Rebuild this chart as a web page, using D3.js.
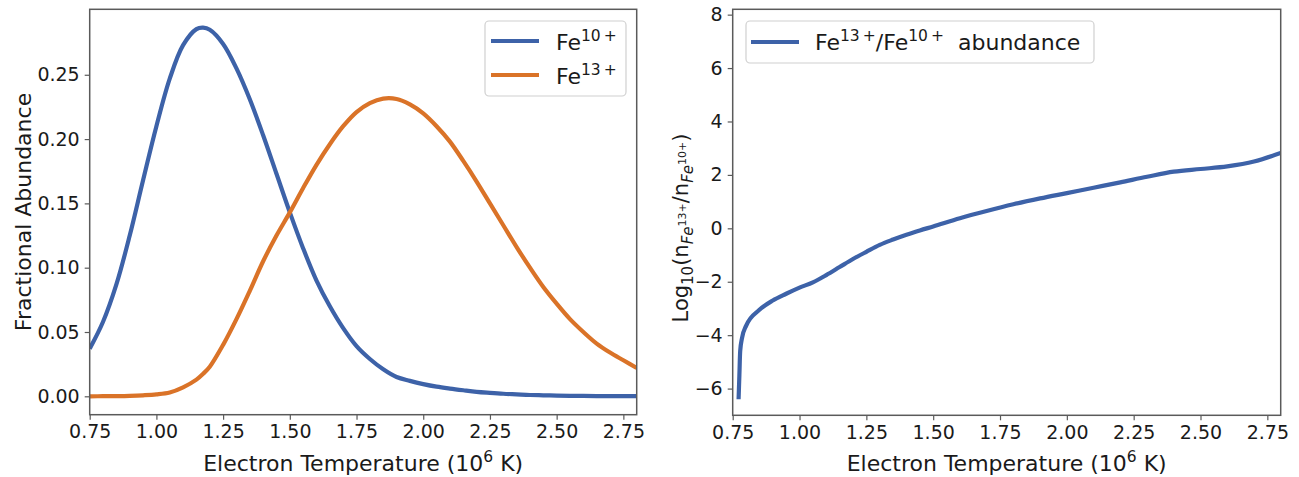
<!DOCTYPE html>
<html><head><meta charset="utf-8">
<script src="https://cdn.jsdelivr.net/npm/d3@7/dist/d3.min.js"></script>
<style>body{margin:0;background:#fff}svg{display:block;font-family:"DejaVu Sans",sans-serif}</style>
</head><body><svg id="c" width="1299" height="477"></svg>
<script>
// ---- data ----
const tempLeft = [0.75,0.80,0.85,0.90,0.95,1.00,1.05,1.10,1.15,1.175,1.20,1.25,1.30,1.35,1.40,1.45,1.50,1.55,1.60,1.65,1.70,1.75,1.80,1.85,1.90,1.95,2.00,2.05,2.10,2.15,2.20,2.25,2.30,2.35,2.40,2.45,2.50,2.55,2.60,2.65,2.70,2.75,2.80];
const fe10 = [0.037,0.058,0.087,0.125,0.168,0.210,0.247,0.273,0.2855,0.2866,0.2850,0.274,0.255,0.231,0.203,0.173,0.143,0.115,0.090,0.070,0.053,0.039,0.029,0.021,0.015,0.012,0.0095,0.0075,0.006,0.0047,0.0035,0.0027,0.002,0.0015,0.001,0.0008,0.0006,0.0004,0.0003,0.0002,0.0002,0.0001,0.0001];
const fe13 = [0.0000,0.0001,0.0002,0.0004,0.0008,0.0015,0.003,0.007,0.013,0.0175,0.023,0.040,0.060,0.082,0.105,0.125,0.143,0.162,0.180,0.196,0.210,0.221,0.228,0.2315,0.2312,0.227,0.220,0.210,0.198,0.183,0.167,0.150,0.133,0.116,0.100,0.085,0.072,0.060,0.050,0.041,0.034,0.028,0.022];
const tempRight = [0.772,0.775,0.778,0.785,0.80,0.85,0.90,0.95,1.00,1.05,1.10,1.15,1.20,1.25,1.30,1.35,1.40,1.45,1.50,1.60,1.70,1.80,1.90,2.00,2.10,2.20,2.30,2.40,2.50,2.60,2.70,2.80];
const logRatio = [-6.40,-5.5,-4.6,-4.1,-3.65,-3.05,-2.7,-2.45,-2.22,-2.02,-1.75,-1.45,-1.15,-0.88,-0.62,-0.42,-0.24,-0.08,0.07,0.38,0.65,0.90,1.12,1.32,1.52,1.72,1.93,2.12,2.22,2.32,2.50,2.82];
const xTicks = [0.75,1.00,1.25,1.50,1.75,2.00,2.25,2.50,2.75];
const yTicksLeft = [0.00,0.05,0.10,0.15,0.20,0.25];
const yTicksRight = [-6,-4,-2,0,2,4,6,8];
const seriesNames = ["10\u2009+","13\u2009+"];

const BLUE = "#3d62a8", ORANGE = "#da7328", SPINE = "#5a5a5a", TXT = "#1a1a1a";
const svg = d3.select("#c");
const FS = 19, TFS = 22, SFS = 15.5;
const curve = d3.curveCatmullRom.alpha(0.5);

function axesFrame(g, x, y, xt, yt, yfmt) {
  const [x0,x1] = x.range(), [y0,y1] = y.range();
  const xa = d3.axisBottom(x).tickValues(xt).tickFormat(d3.format(".2f")).tickSize(5).tickPadding(5);
  const ya = d3.axisLeft(y).tickValues(yt).tickFormat(yfmt).tickSize(5).tickPadding(5);
  const gx = g.append("g").attr("transform",`translate(0,${y0})`).call(xa);
  const gy = g.append("g").attr("transform",`translate(${x0},0)`).call(ya);
  [gx,gy].forEach(a=>{
    a.select(".domain").remove();
    a.selectAll(".tick line").attr("stroke",SPINE).attr("stroke-width",1.2);
    a.selectAll(".tick text").attr("fill",TXT).style("font-size",FS+"px").style("font-family","DejaVu Sans");
  });
  g.append("rect").attr("x",x0).attr("y",y1).attr("width",x1-x0).attr("height",y0-y1)
   .attr("fill","none").attr("stroke",SPINE).attr("stroke-width",1.5);
  const t = g.append("text").attr("x",(x0+x1)/2).attr("y",471).attr("text-anchor","middle")
    .attr("fill",TXT).style("font-size",TFS+"px");
  t.append("tspan").text("Electron Temperature (10");
  t.append("tspan").attr("dy",-9).style("font-size","15.5px").text("6");
  t.append("tspan").attr("dy",9).text(" K)");
}

// ---- left panel ----
const xL = d3.scaleLinear().domain([0.75,2.80]).range([89.7,636.7]);
const yL = d3.scaleLinear().domain([-0.0143,0.3009]).range([414.7,9.3]);
const gL = svg.append("g");
svg.append("clipPath").attr("id","cl").append("rect").attr("x",89.7).attr("y",9.3).attr("width",547).attr("height",405.4);
const lineL = (ys)=> d3.line().x((d,i)=>xL(tempLeft[i])).y(d=>yL(d)).curve(curve)(ys);
gL.append("path").attr("d",lineL(fe10)).attr("fill","none").attr("stroke",BLUE).attr("stroke-width",4.2).attr("clip-path","url(#cl)");
gL.append("path").attr("d",lineL(fe13)).attr("fill","none").attr("stroke",ORANGE).attr("stroke-width",4.2).attr("clip-path","url(#cl)");
axesFrame(gL,xL,yL,xTicks,yTicksLeft,d3.format(".2f"));
gL.append("text").attr("transform","translate(31,212) rotate(-90)").attr("text-anchor","middle")
  .attr("fill",TXT).style("font-size",TFS+"px").text("Fractional Abundance");

// left legend
const lg = gL.append("g");
lg.append("rect").attr("x",485).attr("y",21).attr("width",141).attr("height",75).attr("rx",4)
  .attr("fill","#fff").attr("fill-opacity",0.8).attr("stroke","#d0d0d0").attr("stroke-width",1.2);
[[BLUE,41],[ORANGE,75]].forEach(([c,yy],i)=>{
  lg.append("line").attr("x1",491).attr("x2",539).attr("y1",yy).attr("y2",yy).attr("stroke",c).attr("stroke-width",4.2);
  const t = lg.append("text").attr("x",556).attr("y",yy+9).attr("fill",TXT).style("font-size",TFS+"px");
  t.append("tspan").text("Fe");
  t.append("tspan").attr("dy",-9).style("font-size",SFS+"px").text(seriesNames[i]);
});

// ---- right panel ----
const xR = d3.scaleLinear().domain([0.75,2.80]).range([732.7,1280.7]);
const yR = d3.scaleLinear().domain([-7,8.2]).range([415.3,9.3]);
const gR = svg.append("g");
svg.append("clipPath").attr("id","cr").append("rect").attr("x",732.7).attr("y",9.3).attr("width",548).attr("height",406);
gR.append("path").attr("d",d3.line().x((d,i)=>xR(tempRight[i])).y(d=>yR(d)).curve(d3.curveMonotoneX)(logRatio))
  .attr("fill","none").attr("stroke",BLUE).attr("stroke-width",4.2).attr("clip-path","url(#cr)");
axesFrame(gR,xR,yR,xTicks,yTicksRight,d=>d<0?"\u2212"+Math.abs(d):String(d));

// right y label
const yl = gR.append("text").attr("transform","translate(688,228) rotate(-90)").attr("text-anchor","middle")
  .attr("fill",TXT).style("font-size","21px");
yl.append("tspan").text("Log");
yl.append("tspan").attr("dy",5).style("font-size","15px").text("10");
yl.append("tspan").attr("dy",-5).text("(n");
yl.append("tspan").attr("dy",5).style("font-size","15px").style("font-style","italic").text("Fe");
yl.append("tspan").attr("dy",-7).style("font-size","11px").text("13+");
yl.append("tspan").attr("dy",2).text("/n");
yl.append("tspan").attr("dy",5).style("font-size","15px").style("font-style","italic").text("Fe");
yl.append("tspan").attr("dy",-7).style("font-size","11px").text("10+");
yl.append("tspan").attr("dy",2).text(")");

// right legend
const rg = gR.append("g");
rg.append("rect").attr("x",746).attr("y",21).attr("width",348).attr("height",42).attr("rx",4)
  .attr("fill","#fff").attr("fill-opacity",0.8).attr("stroke","#d0d0d0").attr("stroke-width",1.2);
rg.append("line").attr("x1",751).attr("x2",799).attr("y1",42).attr("y2",42).attr("stroke",BLUE).attr("stroke-width",4.2);
const rt = rg.append("text").attr("x",815).attr("y",50).attr("fill",TXT).style("font-size",TFS+"px").style("white-space","pre");
rt.append("tspan").text("Fe");
rt.append("tspan").attr("dy",-9).style("font-size",SFS+"px").text("13\u2009+");
rt.append("tspan").attr("dy",9).text("/Fe");
rt.append("tspan").attr("dy",-9).style("font-size",SFS+"px").text("10\u2009+");
rt.append("tspan").attr("dy",9).text("  abundance");
</script></body></html>
